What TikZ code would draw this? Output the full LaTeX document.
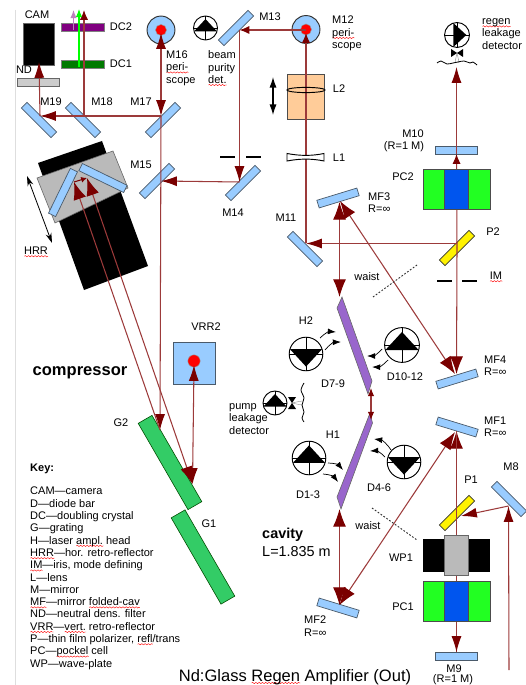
\documentclass[tikz,border=0pt]{standalone}
\usepackage{fontspec}
\setmainfont{Liberation Sans}
\usetikzlibrary{arrows.meta, decorations.pathmorphing}

\definecolor{beamred}{HTML}{9C3A3A}
\definecolor{tipred}{HTML}{7A0000}
\definecolor{mirrorblue}{HTML}{99CCFF}
\definecolor{edgeblue}{HTML}{4A5A6A}
\definecolor{orangelens}{HTML}{FFCC99}
\definecolor{gratinggreen}{HTML}{33CC66}
\definecolor{cellgreen}{HTML}{22FF22}
\definecolor{cellblue}{HTML}{0055EE}
\definecolor{slabpurple}{HTML}{9966CC}
\definecolor{crystalpurple}{HTML}{800080}
\definecolor{crystalgreen}{HTML}{007A00}

\newsavebox{\squigbox}
\newcommand{\squig}[1]{\sbox{\squigbox}{#1}\leavevmode\rlap{\raisebox{-2.2pt}{\begin{tikzpicture}[x=1pt,y=1pt]\draw[red, line width=0.35pt, decorate, decoration={snake, amplitude=0.55pt, segment length=2.8pt}] (0pt,0pt) -- (\the\wd\squigbox,0pt);\end{tikzpicture}}}\usebox{\squigbox}}

\tikzset{
  lbl/.style={inner sep=0pt, font=\fontsize{9.4}{10.5}\selectfont},
  lbll/.style={lbl, align=left, anchor=north west},
  mirror/.style={draw=edgeblue, fill=mirrorblue, line width=0.6pt, inner sep=0pt, minimum width=35.7pt, minimum height=6.8pt},
  polarizer/.style={mirror, fill=yellow, draw=black!80},
  grating/.style={draw=black!70!green, fill=gratinggreen, line width=0.5pt, inner sep=0pt, minimum width=85pt, minimum height=13.6pt},
  roofmirror/.style={mirror, minimum width=42.5pt},
  beam/.style={draw=beamred, line width=0.9pt},
  beamwide/.style={beam, >={Latex[length=15pt,width=11pt,color=tipred]}},
  beamsmall/.style={beam, >={Latex[length=8.5pt,width=7pt,color=tipred]}},
  emit/.style={-{Latex[length=7pt,width=5pt]}, black, line width=0.6pt},
  waist/.style={black!80, dash pattern=on 1.5pt off 1.5pt, line width=0.8pt},
  periscope/.style={circle, draw=black!80, fill=mirrorblue, line width=0.8pt, inner sep=0pt, minimum size=23.8pt},
  redspot/.style={circle, draw=black!40, fill=red, line width=0.4pt, inner sep=0pt, minimum size=9.4pt},
  detector/.pic={
    \draw[line width=0.8pt] (0,0) circle (12);
    \draw[line width=0.7pt] (-12,0) -- (12,0) (0,-12) -- (0,12);
    \fill (0,-9) -- (11.5,3.5) -- (-11.5,3.5) -- cycle;
  },
  bowtie/.pic={
    \draw[black!50, line width=0.3pt] (0,-2) -- (-2,9) (0,-2) -- (2,9);
    \fill (-6,-5) -- (0,-1) -- (-6,3) -- cycle;
    \fill (6,-5) -- (0,-1) -- (6,3) -- cycle;
  },
  >={Latex[length=13.5pt,width=8.5pt,color=tipred]}
}

\begin{document}
\begin{tikzpicture}[x=0.03cm, y=-0.03cm]
  \useasboundingbox (0,0) rectangle (525,685);
  \draw[black!13, line width=0.9pt] (15.5,10) -- (15.5,685);

  % compressor block
  \fill (38,163) -- (102,141) -- (148,266) -- (84,290) -- cycle;
  \draw[black!60, fill=black!27, line width=0.5pt] (37,178) -- (113,151) -- (128,188) -- (55,223) -- cycle;
  \draw[black, line width=0.7pt, {Stealth[length=8.5pt,width=5pt]}-{Stealth[length=8.5pt,width=5pt]}] (27,176) -- (52,243);

  \node[draw=black!60, fill=black, minimum width=26.4pt, minimum height=35.7pt, inner sep=0pt] (CAM) at (38.5,44) {};
  \node[draw=black!50, fill=crystalpurple, minimum width=36.5pt, minimum height=6.8pt, inner sep=0pt] (DC2) at (82.5,27) {};
  \node[draw=black!50, fill=crystalgreen, minimum width=36.5pt, minimum height=6.8pt, inner sep=0pt] (DC1) at (82.5,64) {};
  \node[draw=black!60, fill=black!20, minimum width=35.7pt, minimum height=6.8pt, inner sep=0pt] (ND) at (38,82) {};

  \node[mirror, rotate=-45] (M19) at (39,120) {};
  \node[mirror, rotate=-45] (M18) at (83,120) {};
  \node[mirror, rotate=45] (M17) at (163,120) {};
  \node[mirror, rotate=45] (M15) at (157,181) {};
  \node[mirror, rotate=45] (M14) at (243,183) {};
  \node[mirror, rotate=45] (M13) at (236,28) {};
  \node[mirror, rotate=-45] (M11) at (305,249) {};
  \node[mirror, rotate=-45] (M8) at (509,499) {};
  \node[mirror, rotate=17] (MF3) at (338,198) {};
  \node[mirror, rotate=17] (MF4) at (457,379) {};
  \node[mirror, rotate=-17] (MF1) at (457,427) {};
  \node[mirror, rotate=-17] (MF2) at (338,608) {};
  \node[mirror] (M10) at (456.5,150) {};
  \node[mirror] (M9) at (456.5,656) {};
  \node[roofmirror, rotate=64] (HRRa) at (63,192.5) {};
  \node[roofmirror, rotate=-26] (HRRb) at (103,178) {};
  \node[polarizer, rotate=45] (P2) at (457,248) {};
  \node[polarizer, rotate=45] (P1) at (457,513) {};
  \node[grating, rotate=-60] (G2) at (170,462.5) {};
  \node[grating, rotate=-60] (G1) at (203,557) {};

  \node[draw=black!70, fill=orangelens, line width=0.7pt, minimum width=32pt, minimum height=39pt, inner sep=0pt] (L2) at (306,97) {};
  \node[draw=edgeblue, fill=mirrorblue, line width=0.7pt, minimum width=36pt, minimum height=36.5pt, inner sep=0pt] (VRR2) at (194.5,363.5) {};
  \node[periscope] (M16) at (161,30) {};
  \node[periscope] (M12) at (306,29.5) {};
  \node[redspot] (M16spot) at (161,30) {};
  \node[redspot] (M12spot) at (306,29.5) {};
  \node[redspot, minimum size=10.5pt] (VRR2spot) at (194,361) {};

  % slabs
  \draw[fill=slabpurple, draw=black!60, line width=0.5pt] (342,297) -- (337,308) -- (368,394) -- (372,381) -- cycle;
  \draw[fill=slabpurple, draw=black!60, line width=0.5pt] (370,413) -- (372.5,423) -- (341,509) -- (337,497) -- cycle;

  % beam points
  \coordinate (hM16) at (161,33);
  \coordinate (hM17) at (161,116);
  \coordinate (hM19) at (40,116);
  \coordinate (hM18) at (84,116);
  \coordinate (hCAM) at (39,62);
  \coordinate (hM15) at (161,181);
  \coordinate (hM14) at (239.5,182);
  \coordinate (hM13) at (239.5,30);
  \coordinate (hM12) at (306,33);
  \coordinate (hM12b) at (306,30);
  \coordinate (hM11) at (306,243.5);
  \coordinate (hP2) at (456.5,243.5);
  \coordinate (hMF3a) at (339.5,202);
  \coordinate (hMF3b) at (340,201);
  \coordinate (hMF4) at (455,374);
  \coordinate (hMF4b) at (456.5,374);
  \coordinate (hMF1) at (455,432);
  \coordinate (hMF1b) at (456.5,431);
  \coordinate (hMF2) at (339.5,605);
  \coordinate (hM9) at (456.5,652);
  \coordinate (hM8) at (508.5,506);
  \coordinate (hP1) at (461,516);
  \coordinate (hIn) at (509,670);
  \coordinate (hD79t) at (339.5,297);
  \coordinate (hD79b) at (371,388);
  \coordinate (hD13t) at (371,420);
  \coordinate (hD13b) at (339.5,509);
  \coordinate (hG2a) at (160,430);
  \coordinate (hG2b) at (192.5,484);
  \coordinate (hRRa) at (74,182);
  \coordinate (hRRb) at (87,178);
  \coordinate (hVRR) at (194,365);
  \coordinate (hOutTop) at (456.5,67);
  \coordinate (hM10) at (456.5,154);
  \coordinate (hRedTop) at (84,10);
  \coordinate (hGreenTop) at (79,9);
  \coordinate (hGreenBot) at (79,67);
  \coordinate (hPurpleTop) at (73.5,10);
  \coordinate (hPurpleBot) at (73.5,30);

  % beams
  \draw[beam, <->] (hM16) -- (hM17);
  \draw[beam, ->] (hM17) -- (hM19);
  \draw[beam, ->] (hM19) -- (hCAM);
  \draw[beamsmall, ->] (hM18) -- (hRedTop);
  \draw[beam, ->] (hM17) -- (hG2a);
  \draw[beamsmall, ->] (hM12b) -- (hM13);
  \draw[beam, ->] (hM13) -- (hM14);
  \draw[beam, ->] (hM14) -- (hM15);
  \draw[beamsmall, ->] (hM11) -- (hM12);
  \draw[beam, ->] (hP2) -- (hM11);
  \draw[beamsmall, ->] (P2.center) -- (hM10);
  \draw[beam, ->] (hM10) -- (hOutTop);
  \draw[beamwide, ->] (P2.center) -- (hMF4b);
  \draw[beamwide, <->] (hMF3a) -- (hD79t);
  \draw[beamwide, <->] (hMF3b) -- (hMF4);
  \draw[beam, {Latex[length=7pt,width=5.5pt,color=tipred]}-{Latex[length=7pt,width=5.5pt,color=tipred]}] (hD79b) -- (hD13t);
  \draw[beamwide, <->] (hD13b) -- (hMF2);
  \draw[beamwide, <->] (hMF2) -- (hMF1);
  \draw[beamwide, <-] (hMF1b) -- (hM9);
  \draw[beam, ->] (hMF1b) -- (hM9);
  \draw[beam, ->] (hIn) -- (hM8);
  \draw[beam, ->] (hM8) -- (hP1);
  \draw[beamwide, ->] (hG2a) -- (hRRa);
  \draw[beamwide, <->] (hRRb) -- (hG2b);
  \draw[beam, <->] (hVRR) -- (hG2b);
  \draw[tipred, line width=0.9pt, -{Latex[length=5pt,width=5pt]}] (hRRa) -- (hRRb);
  \draw[green, line width=0.9pt, -{Latex[length=7pt,width=5.5pt]}] (hGreenBot) -- (hGreenTop);
  \draw[violet!50, line width=0.9pt, -{Latex[length=7pt,width=5.5pt]}] (hPurpleBot) -- (hPurpleTop);

  % cells over the beam
  \foreach \cellname/\celly in {PC2/189, PC1/601}{
    \node[draw=black!70, fill=cellgreen, line width=0.6pt, minimum width=57pt, minimum height=34pt, inner sep=0pt] (\cellname) at (456.5,\celly) {};
    \node[draw=black!70, fill=cellblue, line width=0.6pt, minimum width=20pt, minimum height=34pt, inner sep=0pt] (\cellname c) at (456.5,\celly) {};
  }
  \node[fill=black, minimum width=57pt, minimum height=28pt, inner sep=0pt] (WP1) at (456.5,555.5) {};
  \node[draw=black!60, fill=black!27, minimum width=20.4pt, minimum height=34pt, inner sep=0pt] (WP1c) at (456,555) {};

  % lenses
  \draw[black, line width=0.8pt] (306,90) ellipse (19 and 2.6);
  \draw[black, fill=white, line width=0.8pt] (287,153.5) .. controls (300,156) and (312,156) .. (324,153.5) -- (324,161) .. controls (312,158.5) and (300,158.5) .. (287,161) -- cycle;
  \draw[black, line width=1pt, {Latex[length=9pt,width=6pt]}-{Latex[length=9pt,width=6pt]}] (273,77) -- (273,115);

  % irises
  \draw[black, line width=1.2pt] (220,157) -- (235,157) (246,157) -- (261,157);
  \draw[black, line width=1.2pt] (437,281) -- (452,281) (462,281) -- (477,281);

  % waists
  \draw[waist] (373,297) -- (417,265);
  \draw[waist] (372,508) -- (417,540);

  % detectors
  \pic (detPurity) at (205.5,28) {detector};
  \pic[rotate=-90, scale=1.04] (detRegen) at (457,35) {detector};
  \pic[rotate=180, scale=1.4] (detH2) at (306,354) {detector};
  \pic[scale=1.45] (detD1012) at (402,345) {detector};
  \pic (detPump) at (275,403) {detector};
  \pic[scale=1.4] (detH1) at (309,458) {detector};
  \pic[rotate=180, scale=1.4] (detD46) at (404,462) {detector};
  \pic (bowRegen) at (457,54) {bowtie};
  \pic[rotate=90] (bowPump) at (293,403) {bowtie};
  \draw[black, line width=0.7pt] plot[smooth] coordinates {(437,63) (441,61) (447,64) (453,63) (458,62) (464,61) (470,63) (473,62) (477,65)};
  \draw[black, line width=0.7pt] plot[smooth] coordinates {(304,383) (301,390) (304,398) (302,405) (304,412) (302,418) (304,422)};

  % diode glow
  \draw[emit] (320,338) to[bend left=25] (336,332);
  \draw[emit] (325,350) to[bend left=25] (341,342);
  \draw[emit] (382,349) to[bend left=25] (367,356);
  \draw[emit] (388,360) to[bend left=25] (372,367);
  \draw[emit] (328,463) to[bend left=25] (343,470);
  \draw[emit] (323,474) to[bend left=25] (338,482);
  \draw[emit] (391,450) to[bend right=25] (374,439);
  \draw[emit] (385,457) to[bend right=25] (370,451);

  % labels
  \node[lbl] (lCAM) at (37,15) {CAM};
  \node[lbl] (lDC2) at (121,27) {DC2};
  \node[lbl] (lDC1) at (121,64) {DC1};
  \node[lbl] (lND) at (24,70) {ND};
  \node[lbl] (lM19) at (51,102) {M19};
  \node[lbl] (lM18) at (102,102) {M18};
  \node[lbl] (lM17) at (141,102) {M17};
  \node[lbl] (lM15) at (141,165) {M15};
  \node[lbl] (lM14) at (233,213) {M14};
  \node[lbl] (lM13) at (270,17) {M13};
  \node[lbll] (lM16) at (166,50.5) {M16\\\squig{peri-}\\scope};
  \node[lbll] (lPurity) at (208,50.5) {beam\\purity\\\squig{det.}};
  \node[lbll] (lM12) at (332,16) {M12\\\squig{peri-}\\scope};
  \node[lbll] (lRegen) at (482,18.5) {\squig{regen}\\leakage\\detector};
  \node[lbl] (lL2) at (339,89) {L2};
  \node[lbl] (lL1) at (339,158) {L1};
  \node[lbl] (lM10) at (413,134) {M10};
  \node[lbl] (lM10b) at (404,147) {(R=1 M)};
  \node[lbl] (lPC2) at (403,177) {PC2};
  \node[lbll] (lMF3) at (368,192.5) {MF3\\R=∞};
  \node[lbl] (lM11) at (286,218) {M11};
  \node[lbl] (lP2) at (493,232) {P2};
  \node[lbl] (lWaistA) at (367,277) {waist};
  \node[lbl] (lIM) at (496,277) {\squig{IM}};
  \node[lbl] (lH2) at (306,321) {H2};
  \node[lbl] (lD79) at (333,384) {D7-9};
  \node[lbl] (lD1012) at (405,377) {D10-12};
  \node[lbll] (lMF4) at (484,355.5) {MF4\\R=∞};
  \node[lbll] (lMF1) at (484,416.5) {MF1\\R=∞};
  \node[lbll] (lPump) at (229,403.5) {pump\\leakage\\detector};
  \node[lbl] (lH1) at (333,435) {H1};
  \node[lbl] (lD13) at (308,495) {D1-3};
  \node[lbl] (lD46) at (379,488) {D4-6};
  \node[lbl] (lM8) at (511,467) {M8};
  \node[lbl] (lP1) at (471,480) {P1};
  \node[lbl] (lWaistB) at (368,526) {waist};
  \node[lbl] (lWP1) at (401,558) {WP1};
  \node[lbl] (lPC1) at (403,607) {PC1};
  \node[lbll] (lMF2) at (304,616) {MF2\\R=∞};
  \node[lbl] (lM9) at (454,669) {M9};
  \node[lbl] (lM9b) at (453,680) {(R=1 M)};
  \node[lbl] (lHRR) at (36,252) {\squig{HRR}};
  \node[lbl] (lVRR2) at (206,327) {VRR2};
  \node[lbl] (lG2) at (121,423) {G2};
  \node[lbl] (lG1) at (209,524) {G1};
  \node[inner sep=0pt, font=\fontsize{14.1}{16}\selectfont\bfseries] (lComp) at (80,373) {compressor};
  \node[inner sep=0pt, font=\fontsize{12.3}{14}\selectfont\bfseries, anchor=west] (lCav) at (262,535) {cavity};
  \node[inner sep=0pt, font=\fontsize{12.3}{14}\selectfont, anchor=west] (lLen) at (262,552) {L=1.835 m};
  \node[inner sep=0pt, font=\fontsize{14.1}{16}\selectfont] (lTitle) at (295,677) {Nd:Glass \squig{Regen} Amplifier (Out)};
  \node[lbl, font=\fontsize{9.4}{10.5}\selectfont\bfseries, anchor=west] (lKey) at (30,469) {Key:};
  \node[lbll] (lKeyList) at (30,487) {CAM—camera\\
    D—diode bar\\
    DC—doubling crystal\\
    G—grating\\
    H—laser \squig{ampl.} head\\
    \squig{HRR}—hor. retro-reflector\\
    \squig{IM}—iris, mode defining\\
    L—lens\\
    M—mirror\\
    \squig{MF}—mirror \squig{folded-cav}\\
    ND—neutral dens. filter\\
    \squig{VRR}—\squig{vert.} retro-reflector\\
    P—thin film polarizer, \squig{refl}/trans\\
    PC—\squig{pockel} cell\\
    WP—wave-plate};
\end{tikzpicture}
\end{document}
